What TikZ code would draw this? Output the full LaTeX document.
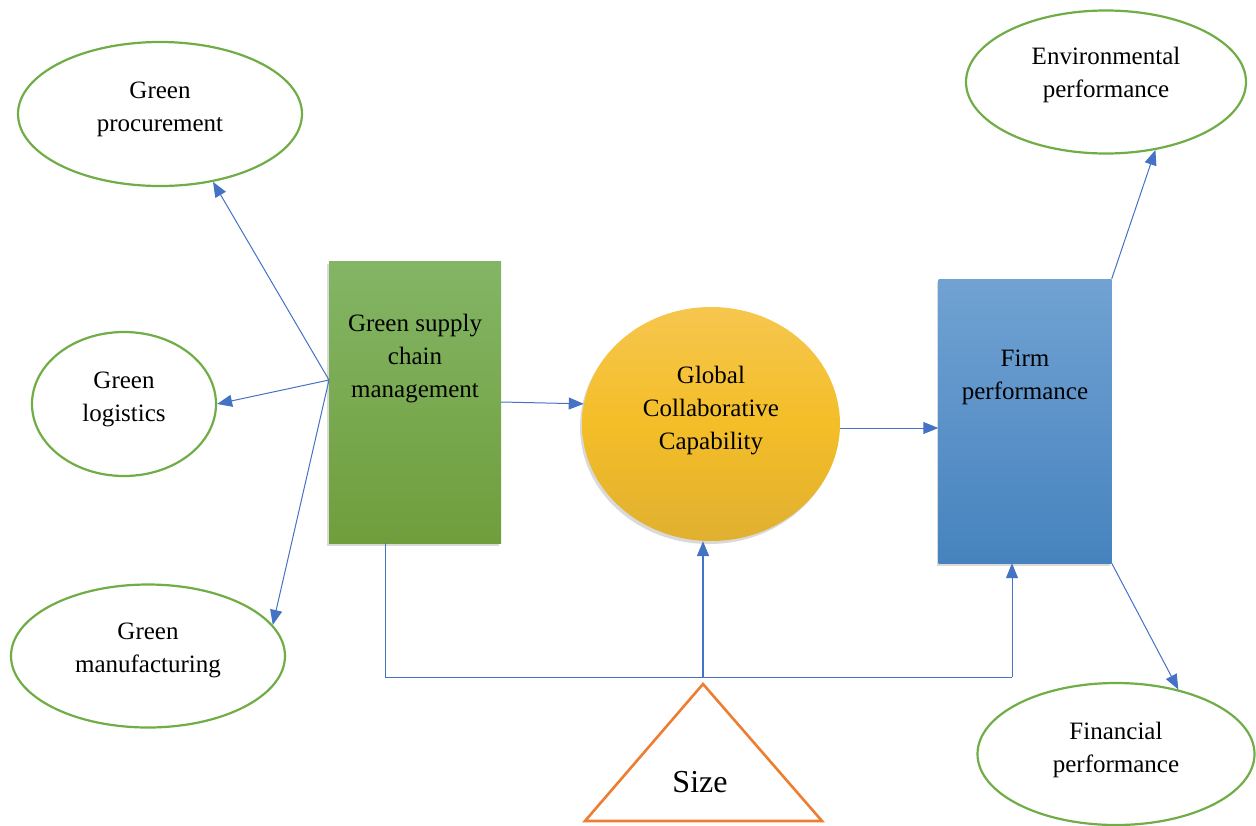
\documentclass[tikz,border=0pt]{standalone}
\usepackage{fontspec}
\setmainfont{Liberation Serif}
\usetikzlibrary{shapes.geometric,arrows.meta,shadows}
\definecolor{gline}{RGB}{112,173,71}
\definecolor{bline}{RGB}{68,114,196}
\definecolor{orng}{RGB}{237,125,49}
\tikzset{
  oval/.style={ellipse, draw=gline, line width=2.2pt, fill=white, inner sep=0pt},
  lbl/.style={align=center, font=\fontsize{25}{33}\selectfont, inner sep=0pt},
  conn/.style={draw=bline, line width=1pt, -{Triangle[length=15pt,width=12pt]}},
  plain/.style={draw=bline, line width=1pt},
  shd/.style={drop shadow={shadow xshift=-2pt, shadow yshift=-3pt, opacity=0.25, fill=black!60}},
}
\begin{document}
\begin{tikzpicture}[x=1pt,y=-1pt]
\useasboundingbox (0,0) rectangle (1256,825);
% ovals
\node[oval, minimum width=284pt, minimum height=144pt] (proc) at (160,114) {};
\node[lbl] (procl) at (160,109) {Green\\procurement};
\node[oval, minimum width=184pt, minimum height=144pt] (logi) at (124,404) {};
\node[lbl] (logil) at (124,399) {Green\\logistics};
\node[oval, minimum width=274pt, minimum height=143pt] (manu) at (148,656) {};
\node[lbl] (manul) at (148,650) {Green\\manufacturing};
\node[oval, minimum width=280pt, minimum height=143pt] (env) at (1106,82) {};
\node[lbl] (envl) at (1106,75) {Environmental\\performance};
\node[oval, minimum width=277pt, minimum height=142pt] (fin) at (1116,754) {};
\node[lbl] (finl) at (1116,750) {Financial\\performance};
% main boxes
\node[shd, rectangle, top color={rgb,255:red,131;green,181;blue,101}, bottom color={rgb,255:red,112;green,158;blue,60}, minimum width=172pt, minimum height=282pt, inner sep=0pt] (gscm) at (415,402) {};
\node[lbl] (gscml) at (415,359) {Green supply\\chain\\management};
\node[shd, ellipse, top color={rgb,255:red,246;green,198;blue,78}, bottom color={rgb,255:red,224;green,176;blue,48}, middle color={rgb,255:red,244;green,190;blue,40}, minimum width=258pt, minimum height=234pt, inner sep=0pt] (gcc) at (711,424) {};
\node[lbl] (gccl) at (711,411) {Global\\Collaborative\\Capability};
\node[shd, rectangle, top color={rgb,255:red,113;green,162;blue,211}, bottom color={rgb,255:red,70;green,131;blue,190}, minimum width=173pt, minimum height=284pt, inner sep=0pt] (firm) at (1025,421) {};
\node[lbl] (firml) at (1025,377) {Firm\\performance};
% size triangle
\draw[orng, line width=2.6pt, line join=miter] (703,684) -- (822,821) -- (585,821) -- cycle;
\node[font=\fontsize{32}{38}\selectfont, inner sep=0pt] (size) at (700,782) {Size};
% connectors
\coordinate (hub) at (329,380);
\draw[conn] (hub) -- (proc.-52);
\draw[conn] (hub) -- (logi.east);
\draw[conn] (hub) -- (manu.14);
\draw[conn] (gscm.east) -- (gcc.171);
\draw[conn] ([yshift=-4pt]gcc.east) -- ([yshift=-4pt]gcc.east -| firm.west);
\draw[conn] (firm.north east) -- (env.-54);
\draw[conn] (firm.south east) -- (fin.46);
\coordinate (bl) at (385,677);
\coordinate (bm) at (703,677);
\coordinate (br) at (1012,677);
\draw[plain] (gscm.south -| bl) -- (bl) -- (br);
\draw[conn] (br) -- (firm.south -| br);
\draw[conn, line width=1.8pt] (bm) -- (gcc.south -| bm);
\end{tikzpicture}
\end{document}
